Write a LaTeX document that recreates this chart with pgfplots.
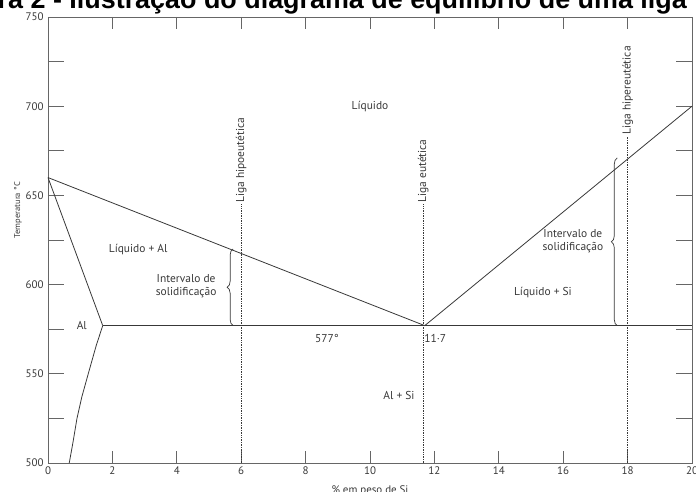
\documentclass[border=0pt]{standalone}
\usepackage{pgfplots}
\pgfplotsset{compat=1.18}
\usepackage{fontspec}
\setmainfont{PT Sans}
\newfontfamily\titlefont{Liberation Sans}
\usetikzlibrary{decorations.pathreplacing}
\definecolor{ink}{gray}{0.22}
\definecolor{axisgray}{gray}{0.4}
\begin{document}
\begin{tikzpicture}
\begin{axis}[
  scale only axis, width=644bp, height=446bp,
  xmin=0, xmax=20, ymin=500, ymax=750,
  xtick={0,2,...,20},
  ytick={500,550,...,750},
  minor ytick={525,575,...,725},
  tick align=inside,
  major tick length=12bp,
  x tick style={/pgfplots/major tick length=12bp},
  y tick style={/pgfplots/major tick length=16bp},
  minor tick length=16bp,
  axis line style={axisgray, line width=0.9bp},
  tick style={axisgray, line width=0.9bp},
  ticklabel style={font=\fontsize{11}{13}\selectfont, text=ink},
  yticklabel style={xshift=-1bp},
  /pgf/number format/assume math mode=true,
  clip=false,
]
% liquidus
\addplot[ink, line width=0.8bp] coordinates {(0,660) (11.7,577) (20,700)};
% eutectic isotherm
\addplot[ink, line width=0.8bp] coordinates {(1.7,577) (20,577)};
% solidus / solvus of Al
\addplot[ink, line width=0.8bp] coordinates {(0,660) (1.7,577)};
\addplot[ink, line width=0.8bp] coordinates {(1.7,577) (1.5,566) (1.25,550) (1.05,537) (0.9,525) (0.78,512) (0.66,500)};
% dotted composition lines
\addplot[ink, densely dotted, line width=0.7bp] coordinates {(6,500) (6,645)};
\addplot[ink, densely dotted, line width=0.7bp] coordinates {(11.65,500) (11.65,645)};
\addplot[ink, densely dotted, line width=0.7bp] coordinates {(18,500) (18,683)};
% braces
\draw[ink, line width=0.7bp, decorate, decoration={brace, amplitude=6bp}] (axis cs:5.75,577) -- (axis cs:5.75,620);
\draw[ink, line width=0.7bp, decorate, decoration={brace, amplitude=6bp}] (axis cs:17.68,577) -- (axis cs:17.68,671);
% labels
\begin{scope}[every node/.style={font=\fontsize{11.5}{13.5}\selectfont, text=ink}]
\node at (axis cs:10,700) {Líquido};
\node at (axis cs:2.8,619.5) {Líquido + Al};
\node[align=center, font=\fontsize{11.5}{13}\selectfont] at (axis cs:4.29,599) {Intervalo de\\solidificação};
\node at (axis cs:1.05,577) {Al};
\node at (axis cs:8.66,570) {577°};
\node[anchor=west, inner sep=1bp] at (axis cs:11.65,570) {11·7};
\node at (axis cs:10.9,538) {Al + Si};
\node at (axis cs:15.37,595.3) {Líquido + Si};
\node[align=center, font=\fontsize{11.5}{13}\selectfont] at (axis cs:16.3,624.4) {Intervalo de\\solidificação};
\node[rotate=90, anchor=west, inner sep=1.5bp] at (axis cs:6,645) {Liga hipoeutética};
\node[rotate=90, anchor=west, inner sep=1.5bp] at (axis cs:11.65,645) {Liga eutética};
\node[rotate=90, anchor=west, inner sep=1.5bp] at (axis cs:18,683) {Liga hipereutética};
\end{scope}
\node[xshift=-30bp, rotate=90, font=\fontsize{8.5}{10}\selectfont, text=ink] at (rel axis cs:0,0.567) {Temperatura °C};
\node[anchor=north, inner sep=0pt, font=\fontsize{11}{13}\selectfont, text=ink] at (rel axis cs:0.5,0) [yshift=-22bp] {\% em peso de Si};
\node[anchor=base east, inner sep=0pt, font=\titlefont\bfseries\fontsize{27}{30}\selectfont] at (rel axis cs:1,1) [xshift=-5bp, yshift=8.5bp] {Figura 2 - Ilustração do diagrama de equilíbrio de uma liga};
\end{axis}
\pgfresetboundingbox
\path[use as bounding box] (-48bp,-29bp) rectangle (648bp,463bp);
\end{tikzpicture}
\end{document}
